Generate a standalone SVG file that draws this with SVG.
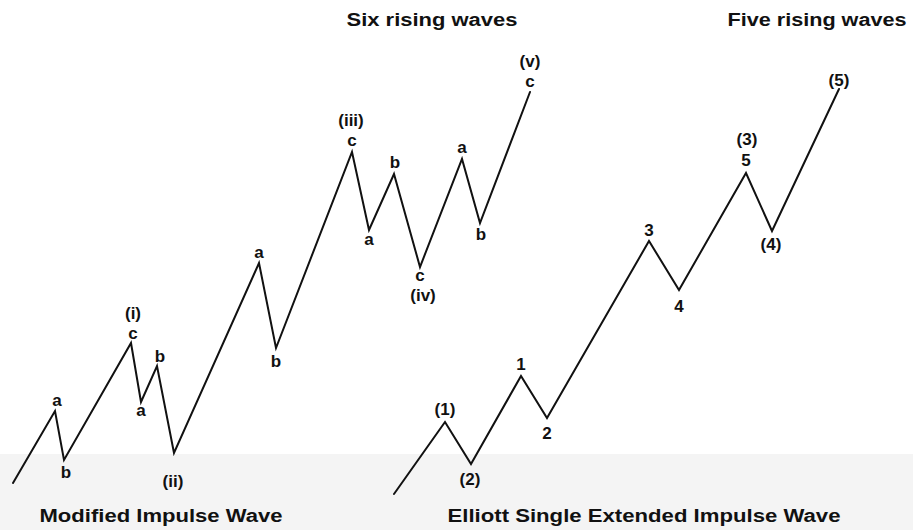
<svg xmlns="http://www.w3.org/2000/svg" width="913" height="530" viewBox="0 0 913 530">
<style>
.wave{fill:none;stroke:#111;stroke-width:2;stroke-linejoin:miter;stroke-linecap:round}
.lbl{font-family:"Liberation Sans",Arial,sans-serif;font-weight:bold;font-size:17px;fill:#111;text-anchor:middle}
.ttl{font-family:"Liberation Sans",Arial,sans-serif;font-weight:bold;font-size:18px;fill:#111;text-anchor:middle}
</style>
<rect x="0" y="0" width="913" height="530" fill="#ffffff"/>
<rect x="0" y="454" width="913" height="76" fill="#f4f4f4"/>
<g id="connectors">
<polyline id="modified-impulse" class="wave" points="13,483 55,411 64,460 131,343 141,402 157,366 174,453 259,263 276,348 352,152 369,230 394,174 420,267 462,159 480,223 530,92"/>
<polyline id="extended-impulse" class="wave" points="394,494 445,422 471,464 521,376 547,418 649,241 679,290 746,173 772,231 839,89"/>
</g>
<g id="title-six"><text class="ttl" x="432" y="26" textLength="171" lengthAdjust="spacingAndGlyphs">Six rising waves</text></g>
<g id="title-five"><text class="ttl" x="817" y="26" textLength="179" lengthAdjust="spacingAndGlyphs">Five rising waves</text></g>
<g id="caption-modified"><text class="ttl" x="161" y="522" textLength="243" lengthAdjust="spacingAndGlyphs">Modified Impulse Wave</text></g>
<g id="caption-elliott"><text class="ttl" x="644" y="522" textLength="393" lengthAdjust="spacingAndGlyphs">Elliott Single Extended Impulse Wave</text></g>
<g id="l-a1"><text class="lbl" x="57" y="406">a</text></g>
<g id="l-b1"><text class="lbl" x="66" y="478">b</text></g>
<g id="l-i"><text class="lbl" x="133" y="319">(i)</text><text class="lbl" x="133" y="339">c</text></g>
<g id="l-a2"><text class="lbl" x="141" y="416">a</text></g>
<g id="l-b2"><text class="lbl" x="160" y="362">b</text></g>
<g id="l-ii"><text class="lbl" x="173" y="487">(ii)</text></g>
<g id="l-a3"><text class="lbl" x="259" y="258">a</text></g>
<g id="l-b3"><text class="lbl" x="276" y="367">b</text></g>
<g id="l-iii"><text class="lbl" x="351" y="126">(iii)</text><text class="lbl" x="352" y="146">c</text></g>
<g id="l-a4"><text class="lbl" x="369" y="245">a</text></g>
<g id="l-b4"><text class="lbl" x="395" y="168">b</text></g>
<g id="l-iv"><text class="lbl" x="420" y="281">c</text><text class="lbl" x="423" y="301">(iv)</text></g>
<g id="l-a5"><text class="lbl" x="462" y="153">a</text></g>
<g id="l-b5"><text class="lbl" x="481" y="240">b</text></g>
<g id="l-v"><text class="lbl" x="530" y="67">(v)</text><text class="lbl" x="530" y="87">c</text></g>
<g id="r-1p"><text class="lbl" x="445" y="415">(1)</text></g>
<g id="r-2p"><text class="lbl" x="470" y="485">(2)</text></g>
<g id="r-1"><text class="lbl" x="521" y="370">1</text></g>
<g id="r-2"><text class="lbl" x="547" y="439">2</text></g>
<g id="r-3"><text class="lbl" x="649" y="236">3</text></g>
<g id="r-4"><text class="lbl" x="679" y="312">4</text></g>
<g id="r-3p"><text class="lbl" x="747" y="145">(3)</text><text class="lbl" x="746" y="166">5</text></g>
<g id="r-4p"><text class="lbl" x="771" y="250">(4)</text></g>
<g id="r-5p"><text class="lbl" x="839" y="86">(5)</text></g>
</svg>
